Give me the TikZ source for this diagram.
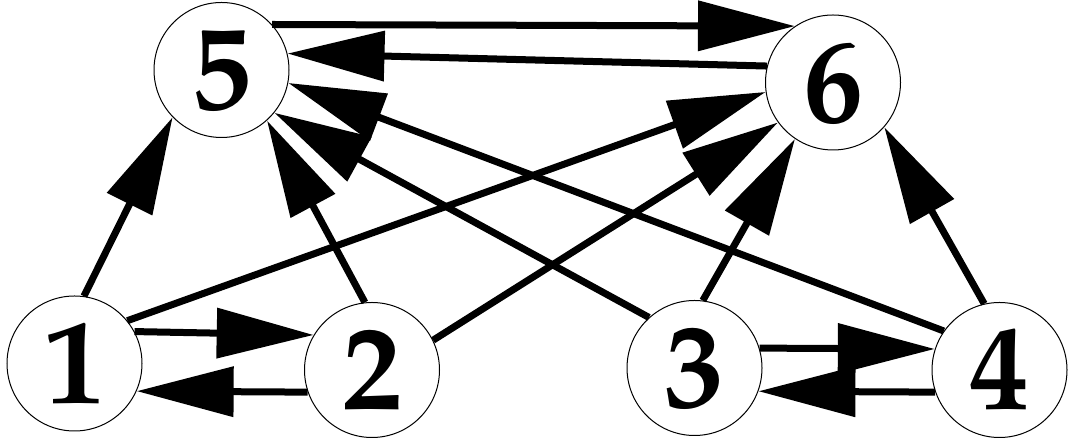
\documentclass[tikz,border=0pt]{standalone}
\usepackage[T1]{fontenc}
\usepackage{mathpazo}
\usetikzlibrary{arrows.meta}
\tikzset{
  etat/.style={draw, circle, line width=1pt, minimum size=135pt, inner sep=0pt,
    font=\fontsize{120}{120}\selectfont\bfseries},
  fleche/.style={line width=7pt, -{Triangle[length=97pt,width=49pt]}}
}
\begin{document}
\begin{tikzpicture}[x=1pt,y=1pt]
                \useasboundingbox (0,0) rectangle (1071,443);
                \node[etat] (n1) at (74.5,79.5) {1};
                \node[etat] (n2) at (372,73) {2};
                \node[etat] (n3) at (694.5,75) {3};
                \node[etat] (n4) at (999.5,73) {4};
                \node[etat] (n5) at (221.5,373) {5};
                \node[etat] (n6) at (833,360.5) {6};
                % vers 5 et 6
                \draw[fleche] (n1.82) -- (n5.-136);
                \draw[fleche] (n1.39.5) -- (n6.-172);
                \draw[fleche] (n2.96) -- (n5.-48);
                \draw[fleche] (n2.26) -- (n6.-144);
                \draw[fleche] (n3.132) -- (n5.-39.5);
                \draw[fleche] (n3.83) -- (n6.-124);
                \draw[fleche] (n4.145) -- (n5.-11);
                \draw[fleche] (n4.103) -- (n6.-41);
                % paires
                \draw[fleche] (n1.28.7) -- (n2.149);
                \draw[fleche] (n2.-161) -- (n1.-24);
                \draw[fleche] (n3.17) -- (n4.162);
                \draw[fleche] (n4.-161) -- (n3.-20);
                \draw[fleche] (n5.42) -- (n6.124);
                \draw[fleche] (n6.166) -- (n5.14);
\end{tikzpicture}
\end{document}
